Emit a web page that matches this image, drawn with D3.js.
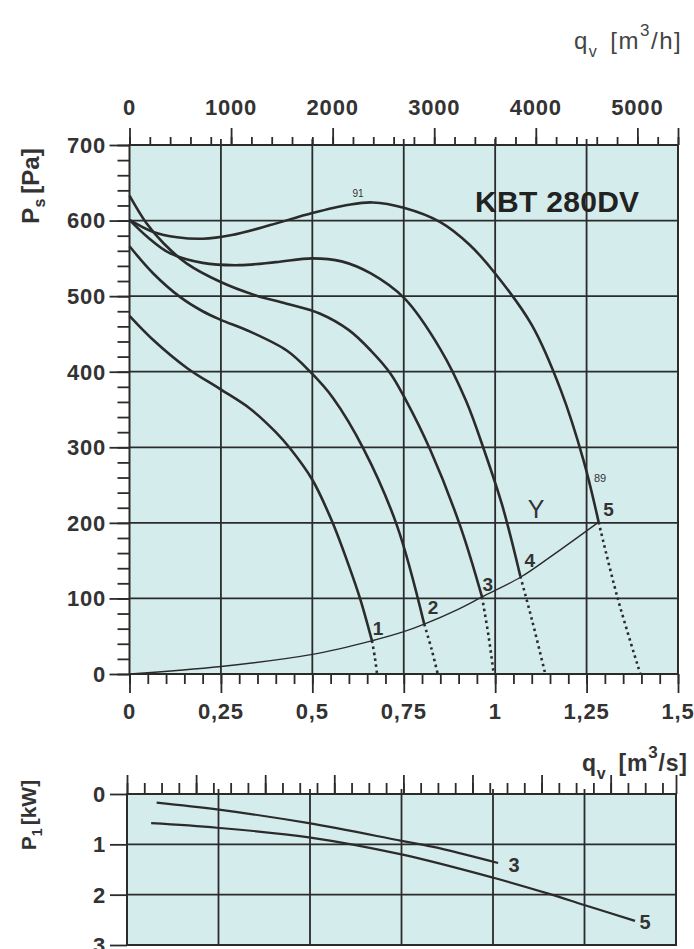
<!DOCTYPE html>
<html><head><meta charset="utf-8">
<script src="https://cdn.jsdelivr.net/npm/d3@7/dist/d3.min.js"></script>
<style>
body{margin:0;background:#fff}
svg{display:block;font-family:"Liberation Sans",Arial,Helvetica,sans-serif}
</style></head>
<body><svg id="chart" width="694" height="949"></svg>
<script>
// ---------- data ----------
const qTicks = [0, 0.25, 0.5, 0.75, 1, 1.25, 1.5];
const qTickLabels = ["0", "0,25", "0,5", "0,75", "1", "1,25", "1,5"];
const psTicks = [0, 100, 200, 300, 400, 500, 600, 700];
const m3hTicks = [0, 1000, 2000, 3000, 4000, 5000];
const kwTicks = [0, 1, 2, 3];

// pressure curves [q m3/s, Ps Pa]
const curve1 = [[0,474],[0.065,442],[0.157,405],[0.248,377],[0.33,351],[0.4,320],[0.44,298],[0.5,257],[0.553,203],[0.6,143],[0.631,99],[0.663,44]];
const curve2 = [[0,566],[0.065,530],[0.138,499],[0.2,480],[0.248,469],[0.33,453],[0.43,428],[0.494,400],[0.557,365],[0.64,298],[0.731,197],[0.806,66]];
const curve3 = [[0,633],[0.047,596],[0.093,570],[0.157,543],[0.248,519],[0.339,502],[0.43,490],[0.52,477],[0.6,455],[0.66,428],[0.713,398],[0.754,364],[0.823,296],[0.905,195],[0.964,102]];
const curve4 = [[0,601],[0.05,578],[0.11,557],[0.2,544],[0.3,541],[0.4,545],[0.5,550],[0.58,546],[0.66,530],[0.752,497],[0.85,430],[0.92,362],[0.97,296],[1.02,222],[1.069,129]];
const curve5 = [[0,601],[0.065,585],[0.13,578],[0.2,576],[0.28,581],[0.385,594],[0.5,610],[0.6,621],[0.665,624],[0.75,617],[0.85,598],[0.93,568],[1.0,530],[1.1,462],[1.18,375],[1.242,282],[1.283,201]];
const curves = [curve1, curve2, curve3, curve4, curve5];

// dotted continuations below the system curve
const dots1 = [[0.663,44],[0.671,22],[0.677,0]];
const dots2 = [[0.806,66],[0.826,33],[0.843,0]];
const dots3 = [[0.964,102],[0.982,50],[0.996,0]];
const dots4 = [[1.069,129],[1.101,71],[1.137,0]];
const dots5 = [[1.283,201],[1.334,102],[1.397,0]];
const dotted = [dots1, dots2, dots3, dots4, dots5];

// system curve Y
const systemY = [[0,0],[0.25,10],[0.5,26],[0.663,44],[0.75,56],[0.806,66],[0.9,86],[0.964,102],[1.069,128],[1.151,155],[1.283,201]];

const curveLabels = ["1", "2", "3", "4", "5"];
const curveLabelPos = [[0.68,60],[0.83,88],[0.98,118],[1.095,150],[1.31,218]];

// power curves [q m3/s, P1 kW]
const power3 = [[0.081,0.17],[0.246,0.305],[0.497,0.58],[0.75,0.93],[0.837,1.05],[1.014,1.37]];
const power5 = [[0.066,0.58],[0.246,0.67],[0.497,0.86],[0.75,1.2],[0.999,1.66],[1.156,1.99],[1.247,2.2],[1.388,2.52]];

// ---------- drawing ----------
const svg = d3.select("#chart");
const ink = "#2b2b2b", fillBg = "#d5ecec";

const x = d3.scaleLinear().domain([0, 1.5]).range([129.5, 678]);
const y = d3.scaleLinear().domain([0, 700]).range([674, 145]);
const xh = d3.scaleLinear().domain([0, 5400]).range([129.5, 678]);

const xb = d3.scaleLinear().domain([0, 1.5]).range([127, 676]);
const xcfm = d3.scaleLinear().domain([0, 1.5 * 2118.88]).range([127, 676]);
const yb = d3.scaleLinear().domain([0, 3]).range([794, 945]);

// main background
svg.append("rect").attr("x", x(0)).attr("y", y(700))
  .attr("width", x(1.5) - x(0)).attr("height", y(0) - y(700)).attr("fill", fillBg);

const g = svg.append("g").attr("stroke", ink).attr("fill", "none");
g.selectAll(".vg").data(qTicks.slice(1, -1)).enter().append("line")
  .attr("x1", d => x(d)).attr("x2", d => x(d)).attr("y1", y(700) - 6).attr("y2", y(0)).attr("stroke-width", 1.8);
g.selectAll(".hg").data(psTicks.slice(1, -1)).enter().append("line")
  .attr("x1", x(0)).attr("x2", x(1.5)).attr("y1", d => y(d)).attr("y2", d => y(d)).attr("stroke-width", 1.8);
g.append("rect").attr("x", x(0)).attr("y", y(700))
  .attr("width", x(1.5) - x(0)).attr("height", y(0) - y(700)).attr("stroke-width", 2);

function ticks(sel, axis) { sel.call(axis); sel.select(".domain").remove(); sel.selectAll("line").attr("stroke", ink).attr("stroke-width", 1.8); }
ticks(svg.append("g").attr("transform", `translate(${x(0)},0)`),
  d3.axisLeft(y).tickValues(psTicks).tickSize(20).tickFormat(""));
ticks(svg.append("g").attr("transform", `translate(${x(0)},0)`),
  d3.axisLeft(y).tickValues(d3.range(0, 701, 20)).tickSize(12).tickFormat(""));
ticks(svg.append("g").attr("transform", `translate(0,${y(0)})`),
  d3.axisBottom(x).tickValues(qTicks).tickSize(19).tickFormat(""));
ticks(svg.append("g").attr("transform", `translate(0,${y(0)})`),
  d3.axisBottom(x).tickValues(d3.range(0, 1.5001, 0.05)).tickSize(10).tickFormat(""));
ticks(svg.append("g").attr("transform", `translate(0,${y(700)})`),
  d3.axisTop(xh).tickValues(m3hTicks.concat([5400])).tickSize(17).tickFormat(""));
ticks(svg.append("g").attr("transform", `translate(0,${y(700)})`),
  d3.axisTop(xh).tickValues(d3.range(0, 5401, 200)).tickSize(8).tickFormat(""));

// tick labels
const lab = svg.append("g").attr("fill", "#333").attr("font-weight", "bold").attr("font-size", 22).attr("letter-spacing", 0.8);
lab.selectAll(".bl").data(qTicks).enter().append("text")
  .attr("x", d => x(d)).attr("y", 719).attr("text-anchor", "middle").text((d, i) => qTickLabels[i]);
lab.selectAll(".tl").data(m3hTicks).enter().append("text")
  .attr("x", d => xh(d)).attr("y", 115).attr("text-anchor", "middle").text(d => d);
lab.selectAll(".yl").data(psTicks).enter().append("text")
  .attr("x", 106).attr("y", d => y(d)).attr("dy", "0.36em").attr("text-anchor", "end").text(d => d);

// curves
const line = d3.line().x(d => x(d[0])).y(d => y(d[1])).curve(d3.curveCatmullRom.alpha(0.5));
svg.append("g").selectAll("path").data(curves).enter().append("path")
  .attr("d", line).attr("fill", "none").attr("stroke", ink).attr("stroke-width", 2.6);
svg.append("g").selectAll("path").data(dotted).enter().append("path")
  .attr("d", line).attr("fill", "none").attr("stroke", ink).attr("stroke-width", 2.6).attr("stroke-dasharray", "2.5,3.5");
svg.append("path").datum(systemY).attr("d", line).attr("fill", "none").attr("stroke", ink).attr("stroke-width", 1.4);

// curve labels
svg.append("g").attr("fill", "#333").attr("font-weight", "bold").attr("font-size", 19)
  .selectAll("text").data(curveLabels).enter().append("text")
  .attr("x", (d, i) => x(curveLabelPos[i][0])).attr("y", (d, i) => y(curveLabelPos[i][1]))
  .attr("text-anchor", "middle").attr("dy", "0.35em").text(d => d);
svg.append("text").attr("x", 536).attr("y", 518).attr("text-anchor", "middle")
  .attr("font-size", 25).attr("fill", "#333").text("Y");
svg.append("text").attr("x", 358).attr("y", 197).attr("text-anchor", "middle")
  .attr("font-size", 10).attr("fill", "#333").text("91");
svg.append("text").attr("x", 600).attr("y", 482).attr("text-anchor", "middle")
  .attr("font-size", 11).attr("fill", "#333").text("89");
svg.append("text").attr("x", 475).attr("y", 212).attr("font-size", 30).attr("font-weight", "bold")
  .attr("letter-spacing", 0.3).attr("fill", "#222").text("KBT 280DV");

// axis titles
const t1 = svg.append("text").attr("x", 574).attr("y", 49).attr("font-size", 24).attr("letter-spacing", 1.5).attr("fill", "#444");
t1.append("tspan").text("q");
t1.append("tspan").attr("font-size", 16).attr("dy", 8).text("v");
t1.append("tspan").attr("dy", -8).attr("dx", 12).text("[m");
t1.append("tspan").attr("font-size", 17).attr("dy", -13).text("3");
t1.append("tspan").attr("dy", 13).text("/h]");

const t2 = svg.append("text").attr("transform", "translate(39,186) rotate(-90)")
  .attr("text-anchor", "middle").attr("font-size", 24).attr("font-weight", "bold").attr("fill", "#333");
t2.append("tspan").text("P");
t2.append("tspan").attr("font-size", 16).attr("dy", 6).text("s");
t2.append("tspan").attr("dy", -6).attr("dx", 5).text("[Pa]");

const t3 = svg.append("text").attr("x", 582).attr("y", 771).attr("font-size", 23).attr("letter-spacing", 0.8).attr("font-weight", "bold").attr("fill", "#333");
t3.append("tspan").text("q");
t3.append("tspan").attr("font-size", 16).attr("dy", 8).text("v");
t3.append("tspan").attr("dy", -8).attr("dx", 12).text("[m");
t3.append("tspan").attr("font-size", 17).attr("dy", -13).text("3");
t3.append("tspan").attr("dy", 13).text("/s]");

const t4 = svg.append("text").attr("transform", "translate(36,815) rotate(-90)")
  .attr("text-anchor", "middle").attr("font-size", 21).attr("font-weight", "bold").attr("fill", "#333");
t4.append("tspan").text("P");
t4.append("tspan").attr("font-size", 14).attr("dy", 6).text("1");
t4.append("tspan").attr("dy", -6).attr("dx", 3).text("[kW]");

// ---------- bottom power panel ----------
svg.append("rect").attr("x", xb(0)).attr("y", yb(0))
  .attr("width", xb(1.5) - xb(0)).attr("height", yb(3) - yb(0)).attr("fill", fillBg);
const gb = svg.append("g").attr("stroke", ink).attr("fill", "none");
gb.selectAll(".vg").data(qTicks.slice(1, -1)).enter().append("line")
  .attr("x1", d => xb(d)).attr("x2", d => xb(d)).attr("y1", yb(0) - 5).attr("y2", yb(3)).attr("stroke-width", 1.8);
gb.selectAll(".hg").data(kwTicks.slice(1, -1)).enter().append("line")
  .attr("x1", xb(0)).attr("x2", xb(1.5)).attr("y1", d => yb(d)).attr("y2", d => yb(d)).attr("stroke-width", 1.8);
gb.append("rect").attr("x", xb(0)).attr("y", yb(0))
  .attr("width", xb(1.5) - xb(0)).attr("height", yb(3) - yb(0)).attr("stroke-width", 2);

ticks(svg.append("g").attr("transform", `translate(${xb(0)},0)`),
  d3.axisLeft(yb).tickValues(kwTicks).tickSize(17).tickFormat(""));
ticks(svg.append("g").attr("transform", `translate(0,${yb(0)})`),
  d3.axisTop(xcfm).tickValues(d3.range(0, 3001, 400).concat([1.5 * 2118.88])).tickSize(19).tickFormat(""));
ticks(svg.append("g").attr("transform", `translate(0,${yb(0)})`),
  d3.axisTop(xcfm).tickValues(d3.range(0, 3101, 100)).tickSize(11).tickFormat(""));

lab.selectAll(".kl").data(kwTicks).enter().append("text")
  .attr("x", 106).attr("y", d => yb(d)).attr("dy", "0.36em").attr("text-anchor", "end").text(d => d);

const lineB = d3.line().x(d => xb(d[0])).y(d => yb(d[1])).curve(d3.curveCatmullRom.alpha(0.5));
svg.append("g").selectAll("path").data([power3, power5]).enter().append("path")
  .attr("d", lineB).attr("fill", "none").attr("stroke", ink).attr("stroke-width", 2.2);
svg.append("text").attr("x", 514).attr("y", 872).attr("text-anchor", "middle")
  .attr("font-size", 20).attr("font-weight", "bold").attr("fill", "#333").text("3");
svg.append("text").attr("x", 645).attr("y", 929).attr("text-anchor", "middle")
  .attr("font-size", 20).attr("font-weight", "bold").attr("fill", "#333").text("5");
</script></body></html>
